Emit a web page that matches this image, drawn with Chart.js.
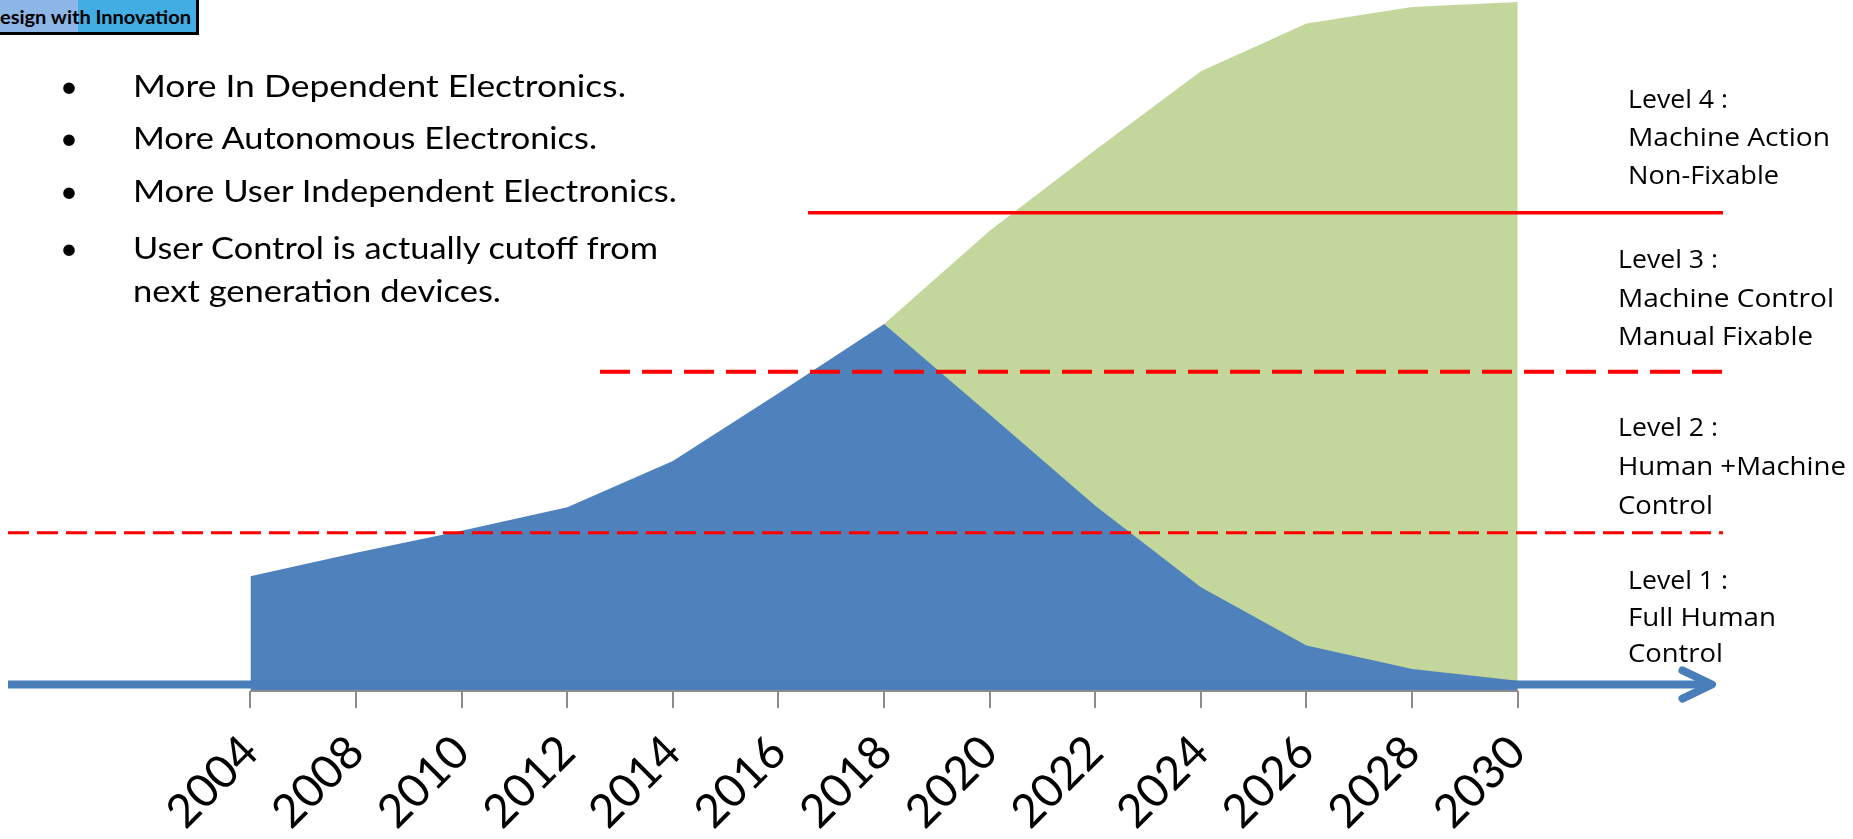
<!DOCTYPE html>
<html>
<head>
<meta charset="utf-8">
<script src="https://cdn.jsdelivr.net/npm/chart.js@4.4.0/dist/chart.umd.min.js"></script>
<style>
  body { margin: 0; background: #fff; }
  #wrap { position: relative; width: 1853px; height: 839px; overflow: hidden; }
  #chart { position: absolute; left: 0; top: 0; }
  .t { position: absolute; white-space: nowrap; line-height: 0; color: #000; transform-origin: 0 0; }
  .bullets .t { font-family: Lato, sans-serif; font-size: 31px; }
  .levels .t { font-family: 'Open Sans', sans-serif; font-size: 26px; }
  #badge {
    position: absolute; left: 0; top: 0; width: 196px; height: 32px;
    border-right: 3px solid #000; border-bottom: 3px solid #000;
    background: linear-gradient(to right, #8db5e6 0, #8db5e6 78px, #41ade2 78px);
    overflow: hidden;
  }
  #badge .t { font-family: Lato, sans-serif; font-weight: bold; font-size: 19px; left: 0; top: 17px; }
</style>
</head>
<body>
<div id="wrap">
  <canvas id="chart" width="1853" height="839"></canvas>

  <div id="badge"><div class="t fit" data-w="191">esign with Innovation</div></div>

  <div class="bullets">
    <div class="t" style="left:60px;top:85px">•</div>
    <div class="t" style="left:60px;top:137px">•</div>
    <div class="t" style="left:60px;top:190px">•</div>
    <div class="t" style="left:60px;top:247px">•</div>
    <div class="t fit" data-w="493" style="left:133px;top:85px">More In Dependent Electronics.</div>
    <div class="t fit" data-w="464" style="left:133px;top:137px">More Autonomous Electronics.</div>
    <div class="t fit" data-w="544" style="left:133px;top:190px">More User Independent Electronics.</div>
    <div class="t fit" data-w="525" style="left:133px;top:247px">User Control is actually cutoff from</div>
    <div class="t fit" data-w="368" style="left:133px;top:290px">next generation devices.</div>
  </div>

  <div class="levels">
    <div class="t fit" data-w="100" style="left:1628px;top:98px">Level 4 :</div>
    <div class="t fit" data-w="202" style="left:1628px;top:136px">Machine Action</div>
    <div class="t fit" data-w="151" style="left:1628px;top:174px">Non-Fixable</div>
    <div class="t fit" data-w="100" style="left:1618px;top:258px">Level 3 :</div>
    <div class="t fit" data-w="216" style="left:1618px;top:297px">Machine Control</div>
    <div class="t fit" data-w="195" style="left:1618px;top:335px">Manual Fixable</div>
    <div class="t fit" data-w="100" style="left:1618px;top:426px">Level 2 :</div>
    <div class="t fit" data-w="228" style="left:1618px;top:465px">Human +Machine</div>
    <div class="t fit" data-w="95" style="left:1618px;top:504px">Control</div>
    <div class="t fit" data-w="100" style="left:1628px;top:579px">Level 1 :</div>
    <div class="t fit" data-w="148" style="left:1628px;top:616px">Full Human</div>
    <div class="t fit" data-w="95" style="left:1628px;top:652px">Control</div>
  </div>
</div>

<script>
'use strict'

const years = ['2004', '2008', '2010', '2012', '2014', '2016', '2018', '2020', '2022', '2024', '2026', '2028', '2030']
const humanControl = [16.6, 20.0, 23.2, 26.6, 33.3, 43.1, 53.1, 40.0, 26.8, 15.0, 6.6, 3.2, 1.5]
const machineControl = [null, null, null, null, null, null, 53.1, 66.6, 78.3, 89.7, 96.6, 99.0, 99.7]
// limits between level 1|2, 2|3 and 3|4
const levelLimits = [22.9, 46.2, 69.2]

// x axis runs in year-index units, wider than the data so the arrow fits
const xMin = -2.296
const xMax = 13.944
const arrowTip = 13.84

const blue = '#4f81bd'
const green = '#c3d69b'
const red = '#ff0000'
const grey = '#8c8c8c'

const toPoints = (values) => values.map((v, i) => ({ x: i, y: v }))

// where each red separator begins, and how it is dashed
const levelLines = [
  { start: xMin, dash: [21, 8], width: 3 },
  { start: 3.31, dash: [30, 12], width: 4 },
  { start: 5.28, dash: [], width: 3.5 }
]

const datasets = levelLines.map((l, i) => ({
  data: [{ x: l.start, y: levelLimits[i] }, { x: xMax, y: levelLimits[i] }],
  borderColor: red,
  borderWidth: l.width,
  borderDash: l.dash,
  fill: false,
  order: 0,
  clip: false
}))

// time arrow along the bottom
datasets.push({
  data: [{ x: xMin, y: 0.94 }, { x: arrowTip, y: 0.94 }],
  borderColor: '#4a7ebb',
  borderWidth: 8,
  fill: false,
  order: 1,
  clip: false
})
datasets.push({
  data: [{ x: arrowTip - 0.28, y: 2.97 }, { x: arrowTip, y: 0.94 }, { x: arrowTip - 0.28, y: -1.09 }],
  borderColor: '#4a7ebb',
  borderWidth: 8,
  borderCapStyle: 'round',
  borderJoinStyle: 'round',
  fill: false,
  order: 1,
  clip: false
})

// grey axis line, only under the years
datasets.push({
  data: [{ x: 0, y: 0 }, { x: years.length - 1, y: 0 }],
  borderColor: grey,
  borderWidth: 2,
  fill: false,
  order: 1.5,
  clip: false
})

datasets.push({
  data: toPoints(humanControl),
  borderWidth: 0,
  borderColor: 'transparent',
  backgroundColor: blue,
  fill: 'origin',
  order: 2
})
datasets.push({
  data: toPoints(machineControl),
  borderWidth: 0,
  borderColor: 'transparent',
  backgroundColor: green,
  fill: 'origin',
  order: 3
})

const ctx = document.getElementById('chart')
const chart = new Chart(ctx, {
  type: 'line',
  data: { datasets: datasets },
  options: {
    responsive: false,
    animation: false,
    devicePixelRatio: 1,
    layout: { padding: { left: 8, right: 130, top: 0, bottom: 0 } },
    plugins: { legend: { display: false }, tooltip: { enabled: false } },
    elements: { point: { radius: 0 }, line: { tension: 0 } },
    scales: {
      x: {
        type: 'linear',
        min: xMin,
        max: xMax,
        afterBuildTicks: (scale) => {
          scale.ticks = years.map((y, i) => ({ value: i }))
        },
        afterFit: (scale) => {
          scale.height = 148
        },
        grid: { drawOnChartArea: false, drawTicks: true, tickLength: 17, color: grey, lineWidth: 2 },
        border: { display: false },
        ticks: {
          autoSkip: false,
          minRotation: 45,
          maxRotation: 45,
          padding: 17,
          color: '#000',
          font: { family: 'Lato', size: 46 },
          callback: (v) => years[v]
        }
      },
      y: { display: false, min: 0, max: 100 }
    }
  }
})

// squeeze / stretch text lines to the widths seen in the slide
document.querySelectorAll('.fit').forEach((el) => {
  const w = el.getBoundingClientRect().width
  el.style.transform = 'scaleX(' + (el.dataset.w / w) + ')'
})
</script>
</body>
</html>
